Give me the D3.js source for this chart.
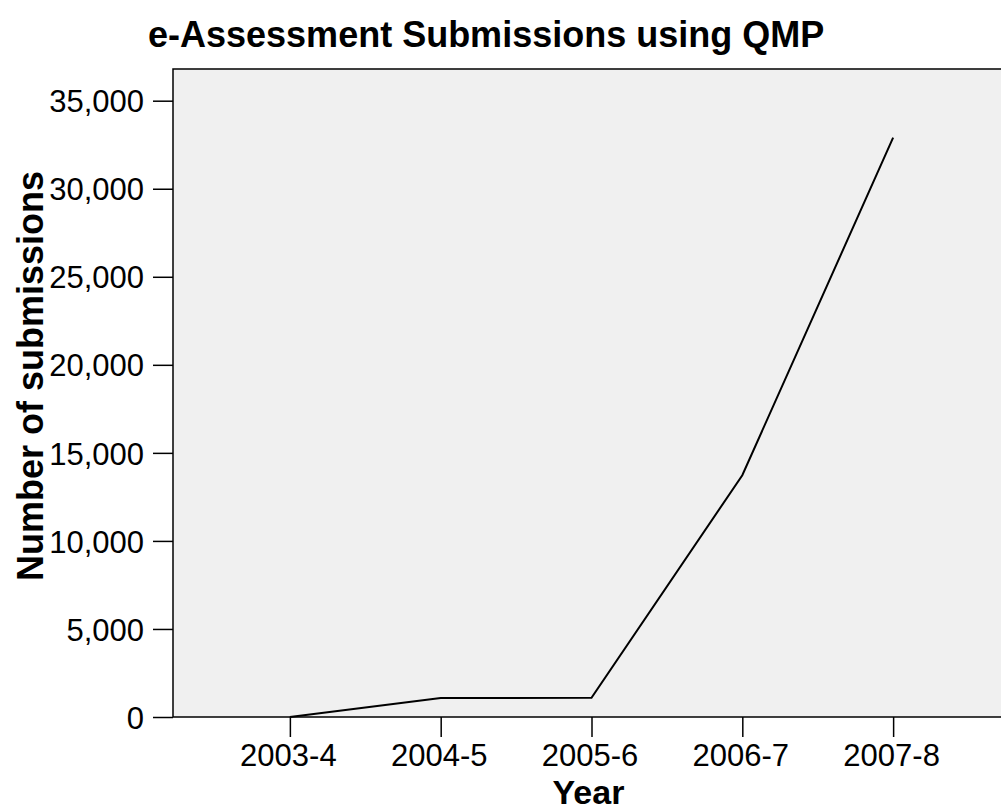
<!DOCTYPE html>
<html>
<head>
<meta charset="utf-8">
<script src="https://cdn.jsdelivr.net/npm/d3@7"></script>
<style>
  html, body { margin: 0; padding: 0; background: #fff; }
  svg { display: block; }
  text { font-family: "Liberation Sans", Arial, sans-serif; fill: #000; }
</style>
</head>
<body>
<svg id="chart" width="1001" height="811"></svg>
<script>
const categories = ["2003-4", "2004-5", "2005-6", "2006-7", "2007-8"];
const submissions = [0, 1080, 1090, 13730, 32900];
const yTicks = [0, 5000, 10000, 15000, 20000, 25000, 30000, 35000];
const titleText = "e-Assessment Submissions using QMP";
const xTitle = "Year";
const yTitle = "Number of submissions";

const svg = d3.select("#chart");
const plotLeft = 173, plotTop = 69, plotBottom = 717, plotRight = 1010;

const x = d3.scalePoint().domain(categories).range([plotLeft, plotRight]).padding(0.775);
const y = d3.scaleLinear().domain([0, 36800]).range([plotBottom, plotTop]);

svg.append("rect")
  .attr("x", plotLeft).attr("y", plotTop)
  .attr("width", plotRight - plotLeft).attr("height", plotBottom - plotTop)
  .attr("fill", "#f0f0f0")
  .attr("stroke", "#000").attr("stroke-width", 1.5);

const fmt = d3.format(",");

const yAxis = svg.append("g")
  .attr("transform", `translate(${plotLeft},0)`)
  .call(d3.axisLeft(y).tickValues(yTicks).tickFormat(fmt).tickSize(20).tickPadding(9));
yAxis.select(".domain").remove();
yAxis.selectAll("line").attr("stroke", "#000").attr("stroke-width", 1.5);
yAxis.selectAll("text")
  .attr("font-size", 31)
  .attr("font-family", "Liberation Sans, Arial, sans-serif")
  .attr("dy", "0.36em");

const xAxis = svg.append("g")
  .attr("transform", `translate(0,${plotBottom})`)
  .call(d3.axisBottom(x).tickSize(20).tickPadding(7));
xAxis.select(".domain").remove();
xAxis.selectAll("line").attr("stroke", "#000").attr("stroke-width", 1.5);
xAxis.selectAll("text")
  .attr("font-size", 31)
  .attr("font-family", "Liberation Sans, Arial, sans-serif")
  .attr("dx", -2);

const line = d3.line()
  .x((d, i) => x(categories[i]))
  .y(d => y(d));

svg.append("path")
  .datum(submissions)
  .attr("d", line)
  .attr("fill", "none")
  .attr("stroke", "#000")
  .attr("stroke-width", 2);

svg.append("text")
  .attr("x", 148).attr("y", 47)
  .attr("font-size", 36).attr("font-weight", "bold")
  .text(titleText);

svg.append("text")
  .attr("x", 588.5).attr("y", 804)
  .attr("text-anchor", "middle")
  .attr("font-size", 34).attr("font-weight", "bold")
  .text(xTitle);

svg.append("text")
  .attr("transform", "translate(43,376) rotate(-90)")
  .attr("text-anchor", "middle")
  .attr("font-size", 36).attr("font-weight", "bold")
  .text(yTitle);
</script>
</body>
</html>
